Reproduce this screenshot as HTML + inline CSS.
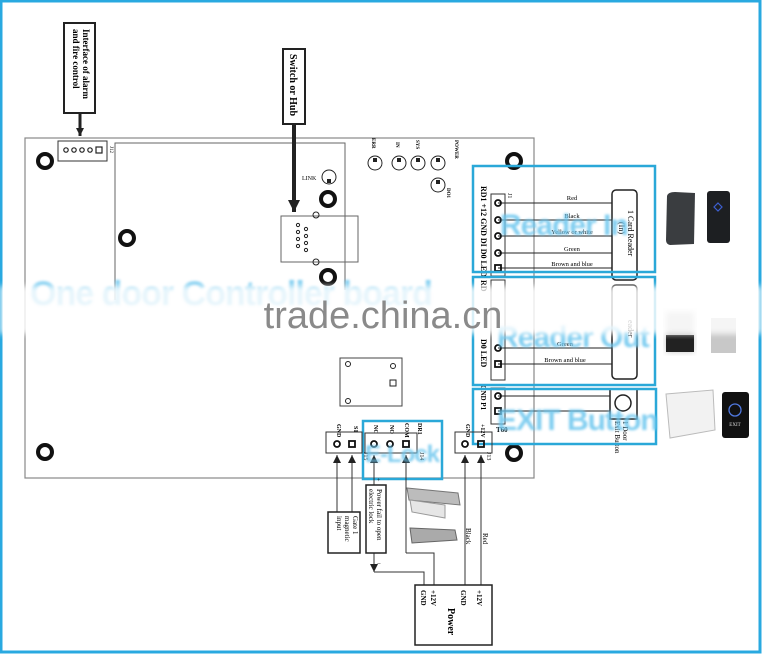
<!DOCTYPE html>
<html><head><meta charset="utf-8"><style>
html,body{margin:0;padding:0;background:#fff}
svg{display:block}
text{font-family:"Liberation Serif",serif}
text.sans{font-family:"Liberation Sans",sans-serif}
</style></head><body>
<svg width="762" height="654" viewBox="0 0 762 654" xmlns="http://www.w3.org/2000/svg">
<defs>
<filter id="bl"><feGaussianBlur stdDeviation="1.2"/></filter>
<filter id="bl2"><feGaussianBlur stdDeviation="3"/></filter>
<marker id="ah" markerUnits="userSpaceOnUse" markerWidth="8" markerHeight="8" refX="8" refY="4" orient="auto"><path d="M0,0 L8,4 L0,8 Z" fill="#222"/></marker>
<marker id="ahb" markerUnits="userSpaceOnUse" markerWidth="12" markerHeight="12" refX="12" refY="6" orient="auto"><path d="M0,0 L12,6 L0,12 Z" fill="#222"/></marker>
</defs>
<rect x="1" y="1" width="759" height="651" fill="#fff" stroke="#29a9e0" stroke-width="3"/>

<!-- board -->
<rect x="25" y="138" width="509" height="340" fill="none" stroke="#888" stroke-width="1.2"/>
<polyline points="115,300 115,143 345,143 345,290" fill="none" stroke="#666" stroke-width="1"/>

<!-- holes -->
<g fill="none" stroke="#111" stroke-width="4">
<circle cx="45" cy="161" r="7"/><circle cx="127" cy="238" r="7"/><circle cx="45" cy="452" r="7"/>
<circle cx="328" cy="199" r="7"/><circle cx="328" cy="277" r="7"/><circle cx="514" cy="161" r="7"/><circle cx="514" cy="453" r="7"/>
</g>

<!-- alarm label -->
<rect x="64" y="23" width="31" height="90" fill="#fff" stroke="#222" stroke-width="2"/>
<text transform="translate(83,29) rotate(90)" font-size="9" font-weight="bold">Interface of alarm</text>
<text transform="translate(73,29) rotate(90)" font-size="9" font-weight="bold">and fire control</text>
<line x1="80" y1="113" x2="80" y2="136" stroke="#222" stroke-width="3" marker-end="url(#ah)"/>
<rect x="58" y="141" width="49" height="20" fill="none" stroke="#333"/>
<g fill="none" stroke="#222" stroke-width="1.2"><circle cx="66" cy="150" r="2.2"/><circle cx="74" cy="150" r="2.2"/><circle cx="82" cy="150" r="2.2"/><circle cx="90" cy="150" r="2.2"/><rect x="96" y="147" width="6" height="6"/></g>
<text x="110" y="146" font-size="5" transform="rotate(90 110 146)">J12</text>

<!-- switch label -->
<rect x="283" y="49" width="22" height="75" fill="#fff" stroke="#222" stroke-width="2"/>
<text transform="translate(290,54) rotate(90)" font-size="10" font-weight="bold">Switch or Hub</text>
<line x1="294" y1="124" x2="294" y2="212" stroke="#222" stroke-width="4" marker-end="url(#ahb)"/>
<rect x="281" y="216" width="77" height="46" fill="none" stroke="#666"/>
<g fill="none" stroke="#222" stroke-width="1"><circle cx="316" cy="215" r="3"/><circle cx="316" cy="262" r="3"/>
<circle cx="298" cy="225" r="1.6"/><circle cx="298" cy="232" r="1.6"/><circle cx="298" cy="239" r="1.6"/><circle cx="298" cy="246" r="1.6"/>
<circle cx="306" cy="229" r="1.6"/><circle cx="306" cy="236" r="1.6"/><circle cx="306" cy="243" r="1.6"/><circle cx="306" cy="250" r="1.6"/></g>
<text x="302" y="180" font-size="6">LINK</text>
<g fill="none" stroke="#222" stroke-width="1">
<circle cx="329" cy="177" r="7"/><circle cx="375" cy="163" r="7"/><circle cx="399" cy="163" r="7"/><circle cx="418" cy="163" r="7"/><circle cx="438" cy="163" r="7"/><circle cx="438" cy="185" r="7"/></g>
<g fill="#222"><rect x="327" y="179" width="4" height="4"/><rect x="373" y="158" width="4" height="4"/><rect x="397" y="158" width="4" height="4"/><rect x="416" y="158" width="4" height="4"/><rect x="436" y="158" width="4" height="4"/><rect x="436" y="180" width="4" height="4"/></g>
<g font-size="5" font-weight="bold"><text transform="translate(372,138) rotate(90)">ERR</text><text transform="translate(396,142) rotate(90)">IN</text><text transform="translate(416,140) rotate(90)">SYS</text><text transform="translate(455,140) rotate(90)">POWER</text><text transform="translate(447,188) rotate(90)">DO1</text></g>

<!-- relay -->
<rect x="340" y="358" width="62" height="48" fill="none" stroke="#444"/>
<g fill="none" stroke="#222"><circle cx="348" cy="364" r="2.5"/><circle cx="348" cy="401" r="2.5"/><circle cx="393" cy="366" r="2.5"/><rect x="390" y="380" width="6" height="6"/></g>

<!-- Reader In -->
<g stroke="#222" stroke-width="1">
<line x1="498" y1="203" x2="612" y2="203"/><line x1="498" y1="220" x2="612" y2="220"/><line x1="498" y1="236" x2="612" y2="236"/><line x1="498" y1="253" x2="612" y2="253"/><line x1="498" y1="268" x2="612" y2="268"/>
</g>
<rect x="491" y="194" width="14" height="82" fill="none" stroke="#333"/>
<g fill="none" stroke="#111" stroke-width="1.8"><circle cx="498" cy="203" r="3"/><circle cx="498" cy="220" r="3"/><circle cx="498" cy="236" r="3"/><circle cx="498" cy="253" r="3"/><rect x="495" y="265" width="6" height="6"/></g>
<text transform="translate(481,186) rotate(90)" font-size="8" font-weight="bold">RD1 +12 GND  DI   D0  LED</text>
<text x="508" y="193" font-size="6" transform="rotate(90 508 193)">J1</text>
<g font-size="6.5" text-anchor="middle"><text x="572" y="200">Red</text><text x="572" y="218">Black</text><text x="572" y="234">Yellow or white</text><text x="572" y="251">Green</text><text x="572" y="266">Brown and blue</text></g>
<rect x="612" y="190" width="25" height="90" rx="4" fill="#fff" stroke="#222" stroke-width="1.5"/>
<text transform="translate(628,210) rotate(90)" font-size="8">1 Card Reader</text>
<text transform="translate(619,222) rotate(90)" font-size="8">(In)</text>

<!-- Reader Out -->
<rect x="491" y="280" width="14" height="100" fill="none" stroke="#333"/>
<g stroke="#222"><line x1="498" y1="348" x2="612" y2="348"/><line x1="498" y1="364" x2="612" y2="364"/></g>
<g fill="none" stroke="#111" stroke-width="1.8"><circle cx="498" cy="348" r="3"/><rect x="495" y="361" width="6" height="6"/></g>
<text transform="translate(481,339) rotate(90)" font-size="8" font-weight="bold">D0  LED</text>
<text x="481" y="280" font-size="8" font-weight="bold" transform="rotate(90 481 280)">RD</text>
<g font-size="6.5" text-anchor="middle"><text x="565" y="346">Green</text><text x="565" y="362">Brown and blue</text></g>
<rect x="612" y="285" width="25" height="94" rx="4" fill="#fff" stroke="#222" stroke-width="1.5"/>
<text transform="translate(628,320) rotate(90)" font-size="8">eader</text>

<!-- Exit -->
<rect x="491" y="388" width="14" height="36" fill="none" stroke="#333"/>
<g stroke="#222"><line x1="498" y1="396" x2="612" y2="396"/><line x1="498" y1="411" x2="612" y2="411"/></g>
<g fill="none" stroke="#111" stroke-width="1.8"><circle cx="498" cy="396" r="3"/><rect x="495" y="408" width="6" height="6"/></g>
<text transform="translate(481,385) rotate(90)" font-size="7" font-weight="bold">GND  P1</text>
<text x="496" y="432" font-size="7" font-weight="bold">T60</text>
<rect x="610" y="389" width="27" height="30" fill="#fff" stroke="#222" stroke-width="1.5"/>
<circle cx="623" cy="403" r="8" fill="none" stroke="#222" stroke-width="1.5"/>
<text transform="translate(623,421) rotate(90)" font-size="7">1 Door</text>
<text transform="translate(615,421) rotate(90)" font-size="7">Exit Button</text>

<!-- cyan boxes -->
<g fill="none" stroke="#2aa8d8" stroke-width="2.5">
<rect x="473" y="166" width="182" height="106"/><rect x="473" y="277" width="182" height="108"/><rect x="473" y="389" width="183" height="55"/><rect x="363" y="421" width="79" height="58"/>
</g>

<!-- right pictures -->
<path d="M667,196 Q668,192 675,192 L695,193 L694,244 L670,245 Q666,244 666,240 Z" fill="#3a3d40"/>
<rect x="707" y="191" width="23" height="52" rx="3" fill="#1d1f22"/>
<path d="M718,203 l4,4 -4,4 -4,-4z" fill="none" stroke="#3d5fd0" stroke-width="1.2"/>
<rect x="666" y="312" width="28" height="40" fill="#c8c8c8" filter="url(#bl2)"/><rect x="666" y="335" width="28" height="17" fill="#222"/>
<rect x="711" y="318" width="25" height="35" fill="#c8c8c8"/>
<path d="M666,394 L713,390 L715,430 L670,438 Z" fill="#f2f2f2" stroke="#bbb"/>
<rect x="722" y="392" width="27" height="46" rx="3" fill="#111"/>
<circle cx="735" cy="410" r="6" fill="none" stroke="#5079e0" stroke-width="1.3"/>
<text x="735" y="426" font-size="5" fill="#ddd" text-anchor="middle">EXIT</text>

<!-- bottom connectors -->
<rect x="326" y="432" width="36" height="21" fill="none" stroke="#333"/>
<g fill="none" stroke="#111" stroke-width="1.8"><circle cx="337" cy="444" r="3"/><rect x="349" y="441" width="6" height="6"/></g>
<g font-size="6" font-weight="bold"><text transform="translate(337,424) rotate(90)">GND</text><text transform="translate(354,426) rotate(90)">S1</text><text transform="translate(374,425) rotate(90)">NC</text><text transform="translate(390,425) rotate(90)">NO</text><text transform="translate(405,423) rotate(90)">COM</text><text transform="translate(418,423) rotate(90)">DR1</text><text transform="translate(466,424) rotate(90)">GND</text><text transform="translate(481,424) rotate(90)">+12V</text></g>
<text x="364" y="452" font-size="6" transform="rotate(90 364 452)">J15</text>
<text x="420" y="452" font-size="6" transform="rotate(90 420 452)">J14</text>
<text x="487" y="452" font-size="6" transform="rotate(90 487 452)">J13</text>
<rect x="365" y="433" width="52" height="20" fill="none" stroke="#333"/>
<g fill="none" stroke="#111" stroke-width="1.8"><circle cx="374" cy="444" r="3"/><circle cx="390" cy="444" r="3"/><rect x="403" y="441" width="6" height="6"/></g>
<rect x="455" y="432" width="37" height="21" fill="none" stroke="#333"/>
<g fill="none" stroke="#111" stroke-width="1.8"><circle cx="465" cy="444" r="3"/><rect x="478" y="441" width="6" height="6"/></g>

<!-- wires -->
<g stroke="#333" stroke-width="1" fill="none">
<line x1="337" y1="512" x2="337" y2="455" marker-end="url(#ah)"/>
<line x1="352" y1="512" x2="352" y2="455" marker-end="url(#ah)"/>
<line x1="374" y1="485" x2="374" y2="455" marker-end="url(#ah)"/>
<line x1="406" y1="553" x2="406" y2="455" marker-end="url(#ah)"/>
<polyline points="406,553 434,553 434,585"/>
<line x1="374" y1="553" x2="374" y2="572" marker-end="url(#ah)"/>
<polyline points="374,572 424,572 424,585"/>
<line x1="465" y1="585" x2="465" y2="455" marker-end="url(#ah)"/>
<line x1="481" y1="585" x2="481" y2="455" marker-end="url(#ah)"/>
</g>
<text x="377" y="482" font-size="6">+</text><text x="377" y="566" font-size="7">−</text>
<rect x="328" y="512" width="32" height="41" fill="#fff" stroke="#222" stroke-width="1.5"/>
<text transform="translate(353,516) rotate(90)" font-size="7">Gate 1</text>
<text transform="translate(345,516) rotate(90)" font-size="7">magnetic</text>
<text transform="translate(337,516) rotate(90)" font-size="7">input</text>
<rect x="366" y="485" width="20" height="68" fill="#fff" stroke="#222" stroke-width="1.5"/>
<text transform="translate(377,489) rotate(90)" font-size="7">Power fail to open</text>
<text transform="translate(369,489) rotate(90)" font-size="7">electric lock</text>
<text transform="translate(466,528) rotate(90)" font-size="7">Black</text>
<text transform="translate(483,533) rotate(90)" font-size="7">Red</text>
<rect x="415" y="585" width="77" height="60" fill="#fff" stroke="#222" stroke-width="1.5"/>
<g font-size="7" font-weight="bold"><text transform="translate(421,590) rotate(90)">GND</text><text transform="translate(431,590) rotate(90)">+12V</text><text transform="translate(461,590) rotate(90)">GND</text><text transform="translate(477,590) rotate(90)">+12V</text></g>
<text transform="translate(448,608) rotate(90)" font-size="10" font-weight="bold">Power</text>

<!-- lock pics -->
<path d="M407,488 L458,493 L460,505 L409,500 Z" fill="#bcbcbc" stroke="#777"/>
<path d="M410,500 L445,505 L445,518 L412,512 Z" fill="#e6e6e6" stroke="#999"/>
<path d="M410,528 L455,530 L457,540 L412,543 Z" fill="#aaa" stroke="#666"/>

<!-- blue watermark words -->
<g fill="#6cc6ee" font-weight="bold" opacity="0.85" filter="url(#bl)">
<text class="sans" x="30" y="305" font-size="34" style="letter-spacing:-1px">One door Controller board</text>
<text class="sans" x="500" y="235" font-size="30" style="letter-spacing:-1px">Reader In</text>
<text class="sans" x="497" y="347" font-size="30" style="letter-spacing:-1px">Reader Out</text>
<text class="sans" x="497" y="430" font-size="30" style="letter-spacing:-1px">EXIT Button</text>
<text class="sans" x="365" y="462" font-size="24" style="letter-spacing:-1px">E-Lock</text>
</g>
<rect x="0" y="286" width="762" height="48" fill="#fff" opacity="0.82" filter="url(#bl2)"/>
<text class="sans" x="383" y="328" font-size="38" fill="#8a8a8a" text-anchor="middle">trade.china.cn</text>
</svg>
</body></html>
